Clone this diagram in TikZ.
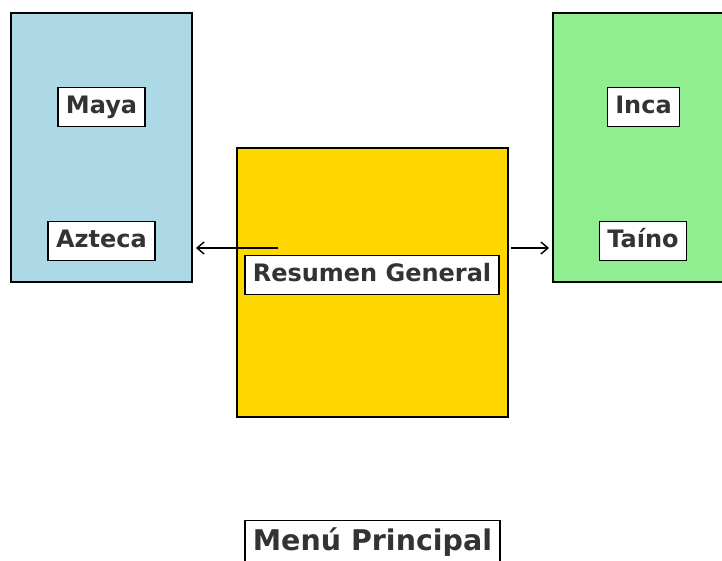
\documentclass[tikz,border=0pt]{standalone}
\usepackage{fontspec}
\setmainfont{DejaVu Sans}
\usetikzlibrary{arrows.meta}
\definecolor{mayablue}{HTML}{ADD8E6}
\definecolor{resgold}{HTML}{FFD700}
\definecolor{incagreen}{HTML}{90EE90}
\definecolor{inktext}{HTML}{333333}
\tikzset{
  region/.style={draw=black, line width=1.4pt},
  tag/.style={draw=black, fill=white, line width=1.5pt, text=inktext,
    font=\fontsize{24}{28}\selectfont\bfseries, inner xsep=8pt,
    text height=18pt, text depth=5pt, inner ysep=8pt},
  link/.style={-{Straight Barb[length=7pt, width=12pt]}, line width=1.4pt}
}
\begin{document}
\begin{tikzpicture}[x=1pt, y=-1pt]
   \useasboundingbox (0,0) rectangle (722,560);
   \draw[region, fill=mayablue] (11,13) rectangle (192,282);
   \draw[region, fill=resgold] (237,148) rectangle (508,417);
   \draw[region, fill=incagreen] (553,13) rectangle (740,282);
   \node[tag] (maya) at (101.5,107) {Maya};
   \node[tag] (azteca) at (101.5,241) {Azteca};
   \node[tag] (inca) at (643.5,107) {Inca};
   \node[tag] (taino) at (643,241) {Taíno};
   \node[tag] (resumen) at (372,275) {Resumen General};
   \node[tag, font=\fontsize{28.5}{33}\selectfont\bfseries, text height=22pt] (menu) at (372.5,542) {Menú Principal};
   \coordinate (fromres) at (278,248);
   \coordinate (toaz) at (196,248);
   \coordinate (fromyel) at (511,248);
   \coordinate (totai) at (549,248);
   \draw[link] (fromres) -- (toaz);
   \draw[link] (fromyel) -- (totai);
\end{tikzpicture}
\end{document}
